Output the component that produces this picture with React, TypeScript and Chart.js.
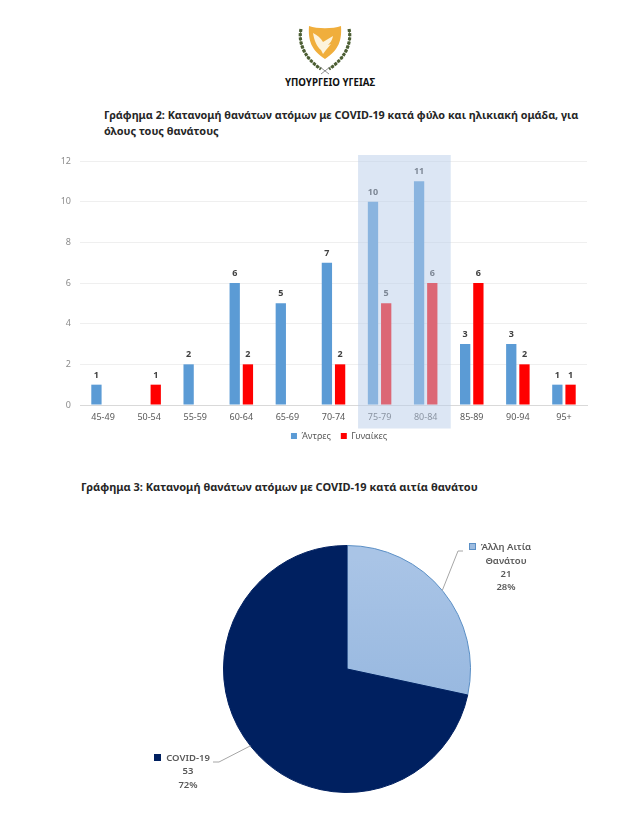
import React, { useEffect, useRef } from "react";
import { Chart, registerables } from "chart.js";

Chart.register(...registerables);

const ageGroups = ["45-49", "50-54", "55-59", "60-64", "65-69", "70-74", "75-79", "80-84", "85-89", "90-94", "95+"];
const men = [1, null, 2, 6, 5, 7, 10, 11, 3, 3, 1];
const women = [null, 1, null, 2, null, 2, 5, 6, 6, 2, 1];
const yTicks = [0, 2, 4, 6, 8, 10, 12];
const seriesNames = ["Άντρες", "Γυναίκες"];
const highlightedAges = ["75-79", "80-84"];
const causes = ["Άλλη Αιτία Θανάτου", "COVID-19"];
const causeCounts = [21, 53];
const causeShares = ["28%", "72%"];

const FONT = "'Noto Sans', sans-serif";
const GREY = "#595959";

const textStyle = (left: number, top: number, width: number, size: number): React.CSSProperties => ({
  position: "absolute",
  left,
  top,
  width,
  whiteSpace: "nowrap",
  fontFamily: FONT,
  fontWeight: 700,
  fontSize: size,
  lineHeight: "19px",
  color: "#262626",
});

const barPlugin = {
  id: "barExtras",
  afterLayout(chart: any) {
    const legend = chart.legend;
    legend.top -= 7.5;
    legend.bottom -= 7.5;
    legend.left += 20.5;
    legend.right += 20.5;
  },
  afterDatasetsDraw(chart: any) {
    const { ctx, scales } = chart;
    ctx.save();
    ctx.font = `700 9px ${FONT}`;
    ctx.fillStyle = "#404040";
    ctx.textAlign = "center";
    ctx.textBaseline = "bottom";
    chart.data.datasets.forEach((ds: any, i: number) => {
      chart.getDatasetMeta(i).data.forEach((bar: any, j: number) => {
        if (ds.data[j] != null) ctx.fillText(String(ds.data[j]), bar.x, bar.y - 5);
      });
    });
    const step = scales.x.getPixelForValue(1) - scales.x.getPixelForValue(0);
    const first = scales.x.getPixelForValue(ageGroups.indexOf(highlightedAges[0])) - step / 2;
    ctx.fillStyle = "rgba(185,205,233,0.5)";
    ctx.fillRect(first + 1.5, scales.y.top - 6, step * highlightedAges.length + 0.5, scales.y.bottom - scales.y.top + 29.5);
    ctx.restore();
  },
};

const piePlugin = {
  id: "pieExtras",
  afterDatasetsDraw(chart: any) {
    const { ctx } = chart;
    const arcs = chart.getDatasetMeta(0).data;
    const c = arcs[0];
    const edge = (deg: number) => {
      const a = ((deg - 90) * Math.PI) / 180;
      return [c.x + c.outerRadius * Math.cos(a), c.y + c.outerRadius * Math.sin(a)];
    };
    ctx.save();
    ctx.strokeStyle = "#a6a6a6";
    ctx.lineWidth = 1;
    const [x1, y1] = edge(50.5);
    ctx.beginPath();
    ctx.moveTo(x1, y1);
    ctx.lineTo(c.x + 111, c.y - 118);
    ctx.lineTo(c.x + 116, c.y - 118);
    ctx.stroke();
    const [x2, y2] = edge(231.5);
    ctx.beginPath();
    ctx.moveTo(x2, y2);
    ctx.lineTo(c.x - 128, c.y + 93);
    ctx.lineTo(c.x - 134, c.y + 93);
    ctx.stroke();

    ctx.textAlign = "center";
    ctx.textBaseline = "middle";
    ctx.font = `600 9.5px ${FONT}`;
    ctx.fillStyle = GREY;
    const words = causes[0].split(" ");
    ctx.fillText(words.slice(0, 2).join(" "), c.x + 159, c.y - 122);
    ctx.fillText(words[2], c.x + 159, c.y - 108);
    ctx.fillText(String(causeCounts[0]), c.x + 159, c.y - 95);
    ctx.fillText(causeShares[0], c.x + 159, c.y - 82);
    ctx.fillText(causes[1], c.x - 159, c.y + 89);
    ctx.fillText(String(causeCounts[1]), c.x - 159, c.y + 102);
    ctx.fillText(causeShares[1], c.x - 159, c.y + 116);
    ctx.fillStyle = "#9dbce0";
    ctx.strokeStyle = "#5b8fc5";
    ctx.fillRect(c.x + 122.5, c.y - 125.5, 6, 6);
    ctx.strokeRect(c.x + 122.5, c.y - 125.5, 6, 6);
    ctx.fillStyle = "#002060";
    ctx.fillRect(c.x - 193, c.y + 85, 7, 7);
    ctx.restore();
  },
};

function Logo() {
  const branch = "M6 7 C3 20 9 36 26 47";
  const branchR = "M54 7 C57 20 51 36 34 47";
  return (
    <svg width="60" height="58" viewBox="0 0 60 58" style={{ position: "absolute", left: 295, top: 22, filter: "blur(0.3px)" }}>
      <path d="M14 4 C22 7 38 7 46 4 C47 18 44 28 30 37 C16 28 13 18 14 4 Z" fill="#f0ae3c" />
      <path d="M18 11 C22 13 26 16 28 20 L38 14 C37 19 35 21 33 23 L36 22 L31 28 L28 32 L26 28 C22 25 19 18 18 11 Z" fill="#fdf3dc" />
      {[branch, branchR].map((d) => (
        <g key={d} fill="none">
          <path d={d} stroke="#6f8052" strokeWidth="1" />
          <path d={d} stroke="#4c5e34" strokeWidth="3.2" strokeDasharray="3 1.2" />
        </g>
      ))}
      <path d="M25 45 L34 52 M35 45 L26 52" stroke="#777" strokeWidth="0.8" />
    </svg>
  );
}

export default function App() {
  const barRef = useRef<HTMLCanvasElement>(null);
  const pieRef = useRef<HTMLCanvasElement>(null);

  useEffect(() => {
    const bar = new Chart(barRef.current!, {
      type: "bar",
      data: {
        labels: ageGroups,
        datasets: [
          { label: seriesNames[0], data: men, backgroundColor: "#5b9bd5", categoryPercentage: 0.573, barPercentage: 0.78 },
          { label: seriesNames[1], data: women, backgroundColor: "#ff0000", categoryPercentage: 0.573, barPercentage: 0.78 },
        ],
      },
      options: {
        animation: false,
        responsive: false,
        layout: { padding: { top: 11, right: 39, bottom: 0, left: 0 } },
        plugins: {
          tooltip: { enabled: false },
          legend: {
            position: "bottom",
            labels: { boxWidth: 6, boxHeight: 6, padding: 10, color: GREY, font: { family: FONT, size: 9 } },
          },
        },
        scales: {
          x: {
            grid: { display: false, tickLength: 0 },
            border: { color: "#d9d9d9" },
            ticks: { color: GREY, font: { family: FONT, size: 9 }, maxRotation: 0, autoSkip: false, padding: 7 },
            afterFit: (s: any) => { s.height = 24; },
          },
          y: {
            min: 0,
            max: 12,
            afterBuildTicks: (s: any) => { s.ticks = yTicks.map((value) => ({ value })); },
            grid: { color: "#efefef", drawTicks: false },
            border: { display: false },
            ticks: { color: "#8c8c8c", font: { family: FONT, size: 9 }, padding: 9 },
            afterFit: (s: any) => { s.width = 30; s.paddingTop = 0; s.paddingBottom = 0; },
          },
        },
      },
      plugins: [barPlugin],
    } as any);

    const pieCtx = pieRef.current!.getContext("2d")!;
    const gradient = pieCtx.createLinearGradient(0, 20, 0, 200);
    gradient.addColorStop(0, "#a9c4e6");
    gradient.addColorStop(1, "#93b5de");
    const pie = new Chart(pieRef.current!, {
      type: "pie",
      data: {
        labels: causes,
        datasets: [{ data: causeCounts, backgroundColor: [gradient, "#002060"], borderColor: ["#5b8fc5", "#002060"], borderWidth: 1 }],
      },
      options: {
        animation: false,
        responsive: false,
        layout: { padding: 6 },
        plugins: { legend: { display: false }, tooltip: { enabled: false } },
      },
      plugins: [piePlugin],
    } as any);

    return () => {
      bar.destroy();
      pie.destroy();
    };
  }, []);

  return (
    <div style={{ position: "relative", width: 639, height: 831, margin: -8, background: "#fff", overflow: "hidden" }}>
      <div style={{ position: "absolute", left: 0, top: 0, width: 5, height: 831, background: "linear-gradient(to right, #d4d4d4, #ffffff)" }} />
      <Logo />
      <div style={{ ...textStyle(260, 73, 140, 9.7), textAlign: "center", color: "#111" }}>ΥΠΟΥΡΓΕΙΟ ΥΓΕΙΑΣ</div>
      <div style={textStyle(104, 105, 500, 10.82)}>Γράφημα 2: Κατανομή θανάτων ατόμων με COVID-19 κατά φύλο και ηλικιακή ομάδα, για</div>
      <div style={textStyle(104, 121, 500, 10.9)}>όλους τους θανάτους</div>
      <div style={textStyle(81, 477, 500, 11)}>Γράφημα 3: Κατανομή θανάτων ατόμων με COVID-19 κατά αιτία θανάτου</div>
      <canvas ref={barRef} width={576} height={308} style={{ position: "absolute", left: 50, top: 150 }} />
      <canvas ref={pieRef} width={520} height={260} style={{ position: "absolute", left: 87, top: 539 }} />
      <div style={{ position: "absolute", left: 575, top: 829, width: 4, height: 1, background: "#bbb" }} />
    </div>
  );
}
